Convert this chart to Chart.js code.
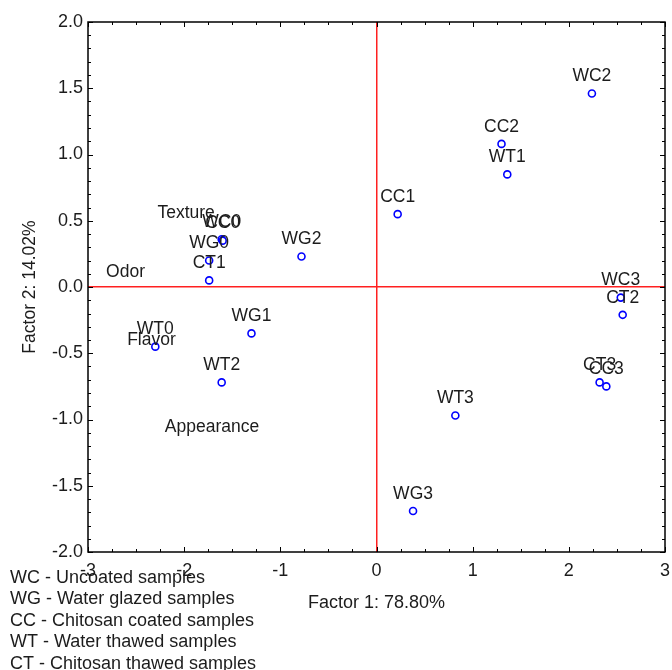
<!DOCTYPE html>
<html>
<head>
<meta charset="utf-8">
<script src="https://cdn.jsdelivr.net/npm/chart.js@4"></script>
<style>
  html, body { margin: 0; padding: 0; background: #fff; }
  #box { width: 672px; height: 670px; }
</style>
</head>
<body>
<div id="box"><canvas id="grafico"></canvas></div>
<script>
// amostras (pontos com circulo)
const nomes = ['WC0', 'CC0', 'WG0', 'CT1', 'WG1', 'WT0', 'WT2', 'WG2', 'CC1',
  'CC2', 'WT1', 'WC2', 'WC3', 'CT2', 'CT3', 'CC3', 'WT3', 'WG3'];
const fator1 = [-1.61, -1.60, -1.74, -1.74, -1.30, -2.30, -1.61, -0.78, 0.22,
  1.30, 1.36, 2.24, 2.54, 2.56, 2.32, 2.39, 0.82, 0.38];
const fator2 = [0.36, 0.35, 0.20, 0.05, -0.35, -0.45, -0.72, 0.23, 0.55,
  1.08, 0.85, 1.46, -0.08, -0.21, -0.72, -0.75, -0.97, -1.69];

// atributos sensoriais (só texto)
const atributos = ['Texture', 'Odor', 'Flavor', 'Appearance'];
const atribX = [-1.98, -2.61, -2.34, -1.71];
const atribY = [0.56, 0.11, -0.40, -1.06];

const legendaLinhas = [
  'WC - Uncoated samples',
  'WG - Water glazed samples',
  'CC - Chitosan coated samples',
  'WT - Water thawed samples',
  'CT - Chitosan thawed samples'
];

const fonte = 'Liberation Sans, Arial, sans-serif';
const corTexto = '#1c1c1c';

// rótulos dos pontos + moldura e marcas de escala para dentro
const pluginRotulos = {
  id: 'rotulos',
  afterDraw(chart) {
    const ctx = chart.ctx;
    const sx = chart.scales.x, sy = chart.scales.y;
    const a = chart.chartArea;
    ctx.save();
    ctx.font = '17.5px ' + fonte;
    ctx.fillStyle = corTexto;
    ctx.textAlign = 'center';
    ctx.textBaseline = 'middle';
    nomes.forEach((n, i) => {
      ctx.fillText(n, sx.getPixelForValue(fator1[i]), sy.getPixelForValue(fator2[i]) - 17);
    });
    atributos.forEach((n, i) => {
      ctx.fillText(n, sx.getPixelForValue(atribX[i]), sy.getPixelForValue(atribY[i]));
    });

    // moldura
    ctx.strokeStyle = '#000';
    ctx.lineWidth = 1.5;
    ctx.strokeRect(a.left, a.top, a.right - a.left, a.bottom - a.top);

    // marcas
    ctx.lineWidth = 1;
    ctx.beginPath();
    for (let k = 0; k <= 24; k++) {
      const v = -3 + k * 0.25;
      const px = Math.round(sx.getPixelForValue(v)) + 0.5;
      const len = (k % 4 === 0) ? 5 : 3;
      ctx.moveTo(px, a.bottom); ctx.lineTo(px, a.bottom - len);
      ctx.moveTo(px, a.top); ctx.lineTo(px, a.top + len);
    }
    for (let k = 0; k <= 40; k++) {
      const v = -2 + k * 0.1;
      const py = Math.round(sy.getPixelForValue(v)) + 0.5;
      const len = (k % 5 === 0) ? 5 : 3;
      ctx.moveTo(a.left, py); ctx.lineTo(a.left + len, py);
      ctx.moveTo(a.right, py); ctx.lineTo(a.right - len, py);
    }
    ctx.stroke();

    // legenda das siglas
    ctx.font = '18px ' + fonte;
    ctx.textAlign = 'left';
    legendaLinhas.forEach((t, i) => {
      ctx.fillText(t, 10, 578 + i * 21.5);
    });
    ctx.restore();
  }
};

const ctx = document.getElementById('grafico').getContext('2d');
const grafico = new Chart(ctx, {
  type: 'scatter',
  data: {
    datasets: [{
      data: fator1.map((x, i) => ({ x: x, y: fator2[i] })),
      pointStyle: 'circle',
      pointRadius: 3.5,
      pointBorderWidth: 1.6,
      borderColor: '#0000ff',
      backgroundColor: '#ffffff'
    }]
  },
  options: {
    responsive: true,
    maintainAspectRatio: false,
    animation: false,
    events: [],
    layout: { padding: { top: 22, right: 7, left: 0, bottom: 0 } },
    plugins: { legend: { display: false }, tooltip: { enabled: false } },
    scales: {
      x: {
        type: 'linear',
        min: -3, max: 3,
        afterFit: (s) => { s.height = 118; s.paddingLeft = 0; s.paddingRight = 0; },
        ticks: {
          stepSize: 1,
          padding: 8,
          color: corTexto,
          font: { family: fonte, size: 18 },
          callback: (v) => String(v)
        },
        grid: {
          drawTicks: false,
          lineWidth: 1.5,
          color: (c) => (c.tick && c.tick.value === 0) ? '#ff2020' : 'rgba(0,0,0,0)'
        },
        border: { display: false },
        title: {
          display: true,
          text: 'Factor 1: 78.80%',
          color: corTexto,
          font: { family: fonte, size: 18 },
          padding: { bottom: 56 }
        }
      },
      y: {
        type: 'linear',
        min: -2, max: 2,
        afterFit: (s) => { s.width = 88; s.paddingTop = 0; s.paddingBottom = 0; },
        ticks: {
          stepSize: 0.5,
          padding: 5,
          color: corTexto,
          font: { family: fonte, size: 18 },
          callback: (v) => Number(v).toFixed(1)
        },
        grid: {
          drawTicks: false,
          lineWidth: 1.5,
          color: (c) => (c.tick && c.tick.value === 0) ? '#ff2020' : 'rgba(0,0,0,0)'
        },
        border: { display: false },
        title: {
          display: true,
          text: 'Factor 2: 14.02%',
          color: corTexto,
          font: { family: fonte, size: 17.5 },
          padding: { top: 20 }
        }
      }
    }
  },
  plugins: [pluginRotulos]
});
</script>
</body>
</html>
